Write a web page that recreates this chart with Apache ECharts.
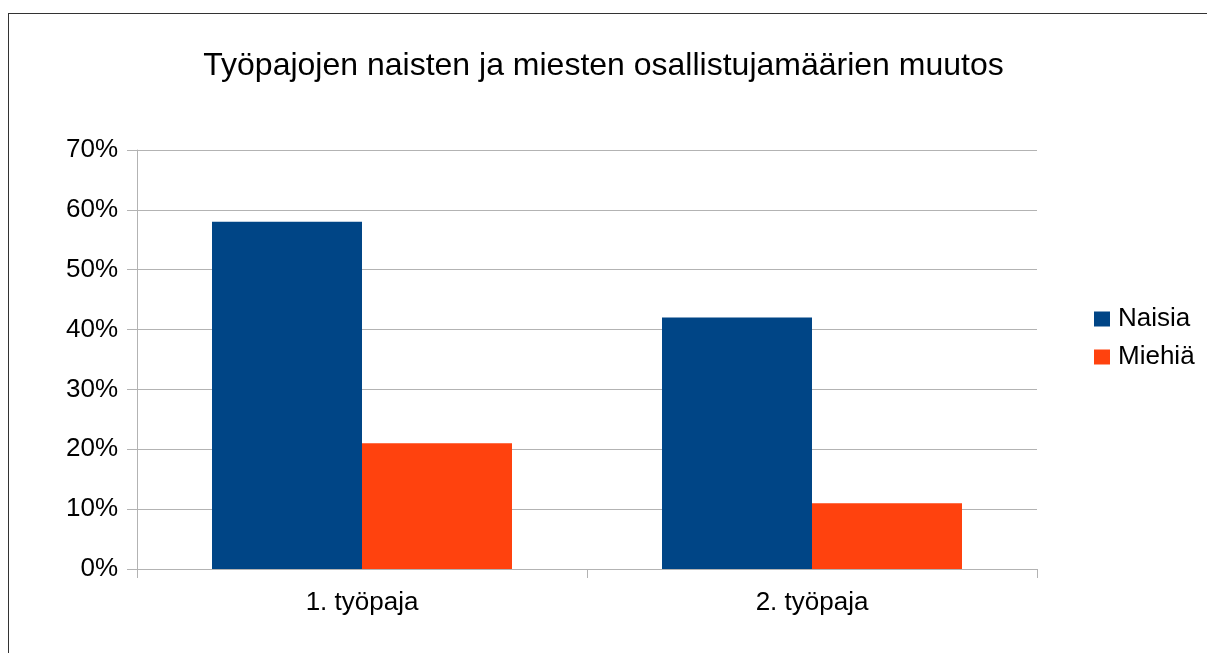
<!DOCTYPE html>
<html><head><meta charset="utf-8">
<script src="https://cdn.jsdelivr.net/npm/echarts@6/dist/echarts.min.js"></script>
<style>
html,body{margin:0;padding:0;background:#fff;}
#frame{position:absolute;left:8px;top:13px;width:1199px;height:640px;border-left:1px solid #333;border-top:1px solid #333;box-sizing:border-box;}
#c{position:absolute;left:0;top:0;width:1207px;height:653px;}
</style></head>
<body>
<div id="frame"></div>
<div id="c"></div>
<script>
const categories = ['1. työpaja', '2. työpaja'];
const naisia = [58, 42];
const miehia = [21, 11];
const yTicks = [0, 10, 20, 30, 40, 50, 60, 70];
const title = 'Työpajojen naisten ja miesten osallistujamäärien muutos';

const chart = echarts.init(document.getElementById('c'), null, {renderer: 'canvas'});
const font = 'Liberation Sans';
chart.setOption({
  animation: false,
  backgroundColor: 'transparent',
  title: {
    text: title, left: 'center', top: 50, padding: 0,
    textStyle: {fontFamily: font, fontSize: 32, fontWeight: 'normal', color: '#000'}
  },
  legend: {
    orient: 'vertical', left: 1094, top: 306, padding: 0,
    itemWidth: 16, itemHeight: 15, itemGap: 12,
    icon: 'rect',
    textStyle: {fontFamily: font, fontSize: 26, color: '#000', padding: [0,0,0,3]},
    data: ['Naisia', 'Miehiä']
  },
  grid: {left: 137, right: 1207 - 1037, top: 150, bottom: 653 - 569, containLabel: false},
  xAxis: {
    type: 'category', data: categories,
    axisLine: {lineStyle: {color: '#b3b3b3', width: 1}},
    axisTick: {show: true, length: 9, lineStyle: {color: '#b3b3b3'}},
    axisLabel: {fontFamily: font, fontSize: 26, color: '#000', margin: 21}
  },
  yAxis: {
    type: 'value', min: yTicks[0], max: yTicks[yTicks.length - 1], interval: 10,
    axisLine: {show: true, lineStyle: {color: '#b3b3b3', width: 1}},
    axisTick: {show: true, length: 10, lineStyle: {color: '#b3b3b3'}},
    splitLine: {lineStyle: {color: '#b3b3b3', width: 1}},
    axisLabel: {fontFamily: font, fontSize: 26, color: '#000', margin: 19, formatter: '{value}%'}
  },
  series: [
    {name: 'Naisia', type: 'bar', data: naisia, barWidth: '33.333%', barGap: '0%',
     itemStyle: {color: '#004586'}},
    {name: 'Miehiä', type: 'bar', data: miehia, barWidth: '33.333%', barGap: '0%',
     itemStyle: {color: '#ff420e'}}
  ]
});
</script>
</body></html>
